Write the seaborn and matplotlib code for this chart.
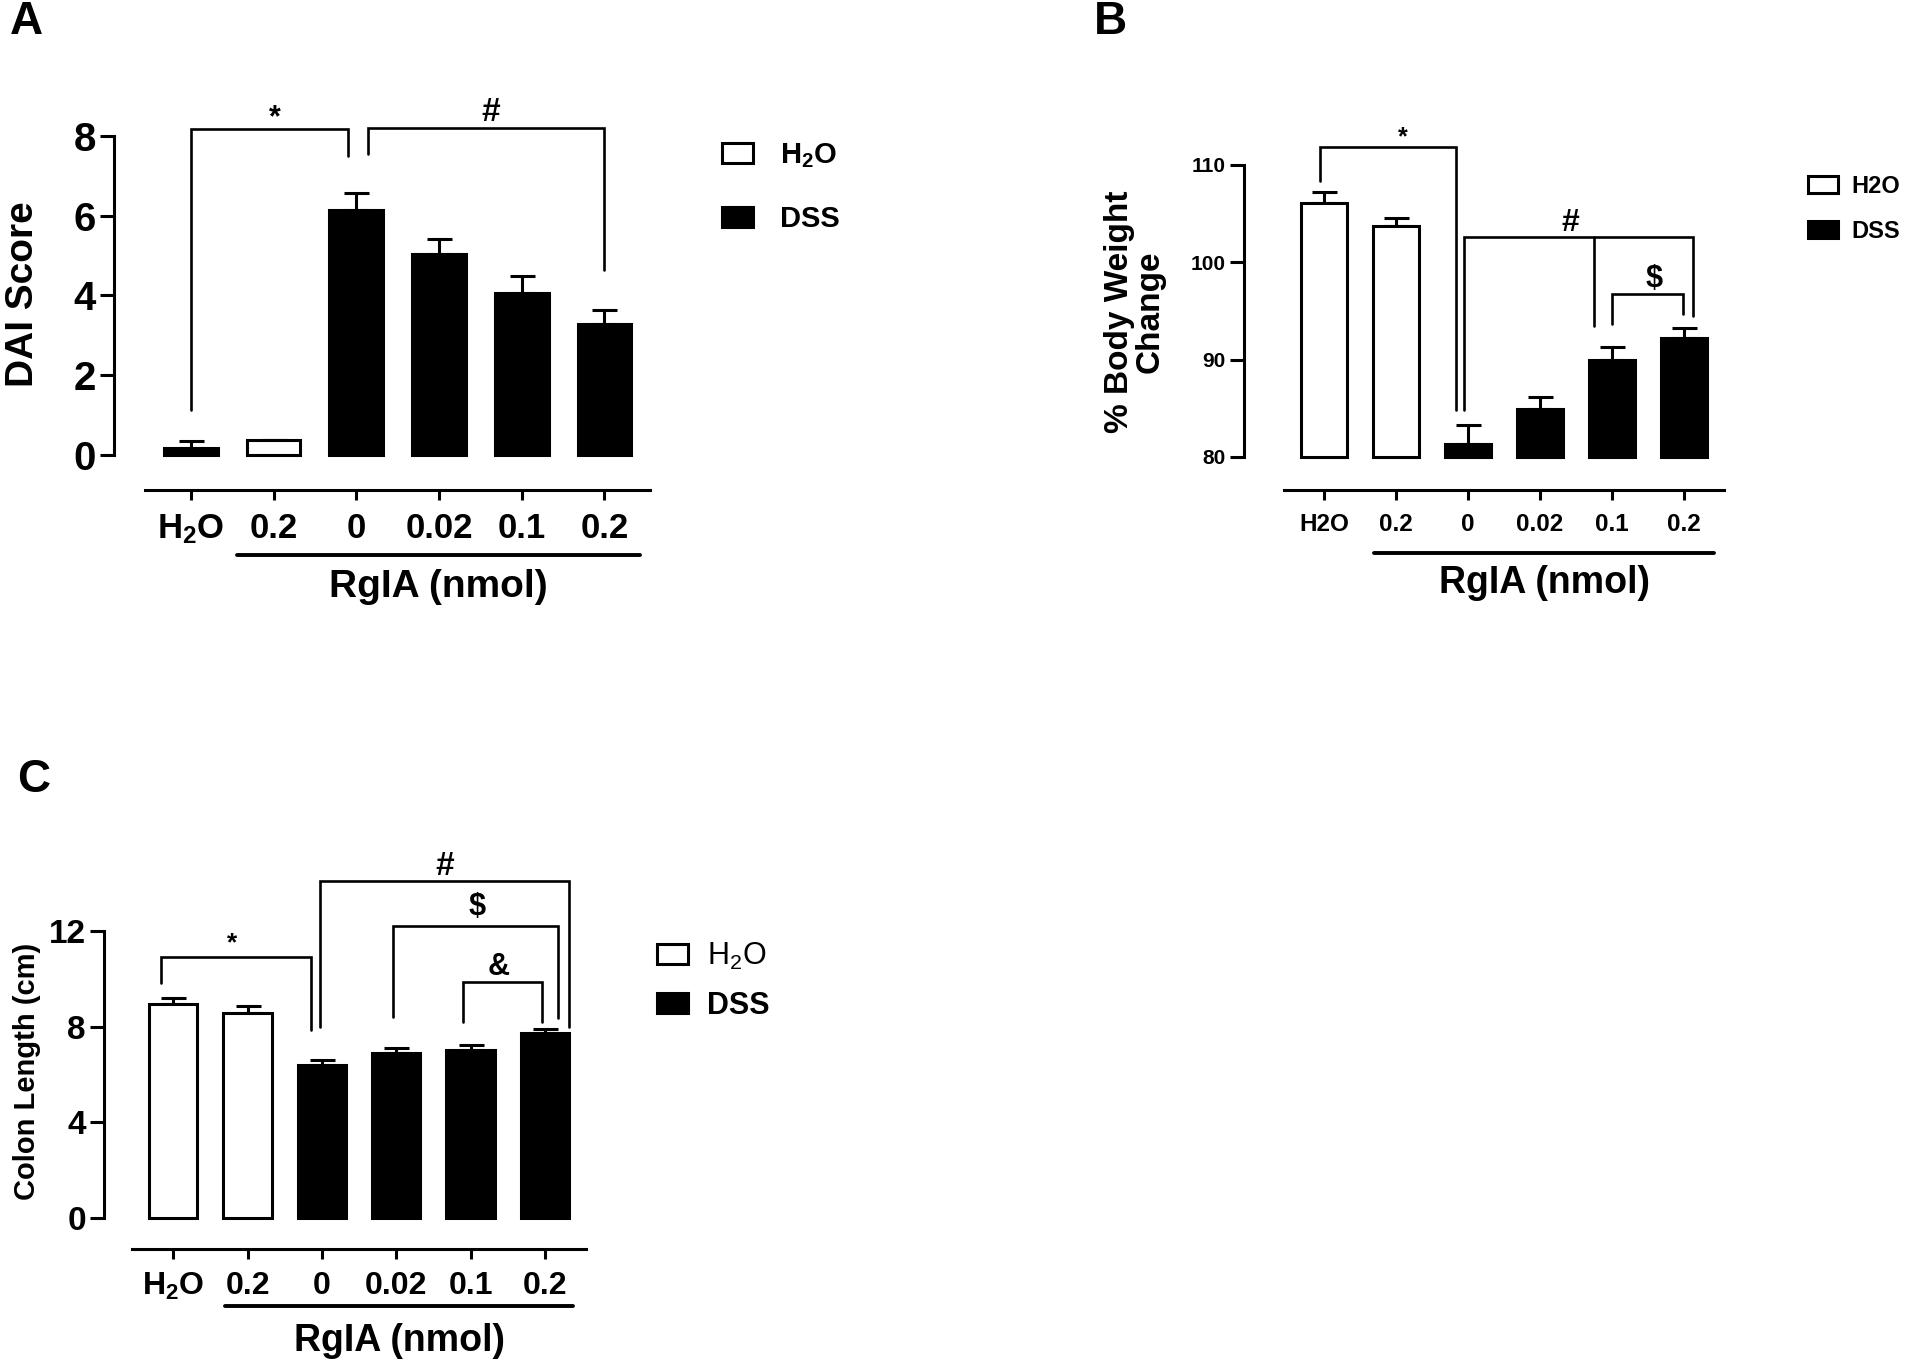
import numpy as np
import pandas as pd
import matplotlib
matplotlib.use('Agg')
import matplotlib.pyplot as plt
from matplotlib.patches import Patch
import seaborn as sns

# data (mean, SEM)
conditions = ['H2O', 'H2O_0.2', 'DSS_0', 'DSS_0.02', 'DSS_0.1', 'DSS_0.2']
groups = ['H2O', 'H2O', 'DSS', 'DSS', 'DSS', 'DSS']
tick_labels = ['H$_2$O', '0.2', '0', '0.02', '0.1', '0.2']
tick_labels_b = ['H2O', '0.2', '0', '0.02', '0.1', '0.2']

dai_mean = [0.18, 0.38, 6.14, 5.04, 4.06, 3.28]
dai_sem = [0.18, 0.0, 0.42, 0.38, 0.42, 0.36]

bw_mean = [106.1, 103.7, 81.35, 84.9, 89.96, 92.2]
bw_sem = [1.1, 0.9, 1.95, 1.3, 1.3, 1.1]

colon_mean = [8.95, 8.59, 6.38, 6.88, 7.03, 7.72]
colon_sem = [0.25, 0.27, 0.23, 0.22, 0.19, 0.20]

# significance brackets: x left, x right, top, left end, right end, symbol, text x, text y, size
brackets_a = [(0.0, 1.9, 8.17, 1.12, 7.5, '*', 1.01, 8.45, 22),
              (2.14, 5.0, 8.21, 7.54, 4.64, '#', 3.62, 8.6, 24)]
brackets_b = [(-0.05, 1.83, 111.9, 108.4, 84.8, '*', 1.1, 112.8, 18),
              (1.95, 5.13, 102.6, 84.8, 94.5, '#', 3.42, 104.0, 23),
              (4.0, 4.99, 96.7, 93.7, 94.7, '$', 4.59, 98.3, 22)]
brackets_c = [(-0.16, 1.86, 10.9, 9.81, 7.84, '*', 0.79, 11.5, 19),
              (1.98, 5.32, 14.1, 8.0, 8.0, '#', 3.65, 14.7, 24),
              (2.95, 5.17, 12.2, 8.4, 8.37, '$', 4.09, 13.0, 22),
              (3.9, 4.96, 9.86, 8.2, 8.2, '&', 4.38, 10.5, 22)]

sns.set_theme(style='ticks')
plt.rcParams['font.family'] = ['Liberation Sans', 'DejaVu Sans']
plt.rcParams['font.weight'] = 'bold'
plt.rcParams['axes.labelweight'] = 'bold'
plt.rcParams['mathtext.default'] = 'regular'
plt.rcParams['axes.edgecolor'] = 'black'
plt.rcParams['xtick.color'] = 'black'
plt.rcParams['ytick.color'] = 'black'
plt.rcParams['text.color'] = 'black'
plt.rcParams['axes.labelcolor'] = 'black'
narrow = ['Liberation Sans Narrow', 'Liberation Sans', 'DejaVu Sans']

LW = 2.2
pal = {'H2O': 'white', 'DSS': 'black'}

fig = plt.figure(figsize=(19.2, 13.6), dpi=100)


def draw_bars(ax, means, sems, base=0):
    df = pd.DataFrame({'cond': conditions, 'group': groups, 'value': means})
    sns.barplot(data=df, x='cond', y='value', hue='group', palette=pal,
                order=conditions, hue_order=['H2O', 'DSS'], dodge=False,
                width=0.65, edgecolor='black', linewidth=LW, legend=False, ax=ax)
    for p in ax.patches:
        if base:
            p.set_height(p.get_height() - base)
            p.set_y(base)
        p.set_clip_on(False)
    x = np.arange(len(means))
    ax.errorbar(x, means, yerr=[np.zeros(len(sems)), sems], fmt='none',
                ecolor='black', elinewidth=LW, capsize=9, capthick=LW, zorder=0.5)


def style_axes(ax, xlim, ylim, yticks, offset, labels, xsize, ysize, yfam=None, xfam=None):
    sns.despine(ax=ax)
    ax.set_xlim(xlim)
    ax.set_ylim(ylim)
    ax.spines['left'].set_linewidth(LW)
    ax.spines['bottom'].set_linewidth(LW)
    ax.spines['bottom'].set_position(('outward', offset))
    ax.spines['bottom'].set_bounds(-0.55, 5.55)
    ax.spines['left'].set_bounds(*ylim)
    ax.set_xticks(range(6))
    ax.set_xticklabels(labels)
    ax.set_yticks(yticks)
    ax.tick_params(axis='y', length=10, width=LW, pad=3, labelsize=ysize)
    ax.tick_params(axis='x', length=7, width=LW, pad=9, labelsize=xsize)
    ax.set_xlabel('')
    if yfam:
        for t in ax.get_yticklabels():
            t.set_family(yfam)
    if xfam:
        for t in ax.get_xticklabels():
            t.set_family(xfam)


def draw_brackets(ax, specs, lw=1.9):
    for x1, x2, top, e1, e2, sym, tx, ty, size in specs:
        ax.plot([x1, x1, x2, x2], [e1, top, top, e2], color='black', lw=lw,
                clip_on=False, solid_joinstyle='miter')
        ax.text(tx, ty, sym, ha='center', va='center', fontsize=size, clip_on=False)


def group_line(ax, x1, x2, y, ty, size):
    ax.plot([x1, x2], [y, y], color='black', lw=LW + 0.6, clip_on=False)
    ax.text((x1 + x2) / 2, ty, 'RgIA (nmol)', ha='center', va='center', fontsize=size)


# ---------- A ----------
axA = fig.add_axes([114 / 1920, 1 - 455 / 1360, 540 / 1920, 319 / 1360])
draw_bars(axA, dai_mean, dai_sem)
for p in axA.patches:
    if abs(p.get_x() + p.get_width() / 2) < 0.1:
        p.set_facecolor('black')
style_axes(axA, (-0.93, 5.6), (0, 8), [0, 2, 4, 6, 8], 25, tick_labels, 25, 29)
axA.set_ylabel('DAI Score', fontsize=28, va='center')
axA.yaxis.set_label_coords(-0.169, 0.505)
draw_brackets(axA, brackets_a)
group_line(axA, 0.56, 5.43, -2.51, -3.3, 28)

# ---------- B ----------
axB = fig.add_axes([1244 / 1920, 1 - 457 / 1360, 494 / 1920, 292 / 1360])
draw_bars(axB, bw_mean, bw_sem, base=80)
style_axes(axB, (-1.11, 5.75), (80, 110), [80, 90, 100, 110], 24, tick_labels_b,
           17.5, 15, yfam=narrow, xfam=narrow)
axB.set_ylabel('% Body Weight\nChange', fontsize=24, va='center', linespacing=1.0)
axB.yaxis.set_label_coords(-0.221, 0.497)
draw_brackets(axB, brackets_b)
axB.plot([3.75, 3.75], [102.6, 93.5], color='black', lw=1.9, clip_on=False)
group_line(axB, 0.70, 5.42, 70.1, 67.1, 27)

# ---------- C ----------
axC = fig.add_axes([104 / 1920, 1 - 1218 / 1360, 493 / 1920, 287 / 1360])
draw_bars(axC, colon_mean, colon_sem)
style_axes(axC, (-0.93, 5.7), (0, 12), [0, 4, 8, 12], 22, tick_labels, 23, 24, yfam=narrow)
axC.set_ylabel('Colon Length (cm)', fontsize=21, va='center')
axC.yaxis.set_label_coords(-0.156, 0.512)
draw_brackets(axC, brackets_c)
group_line(axC, 0.70, 5.38, -3.66, -5.15, 27)

# ---------- legends ----------
handles = [Patch(facecolor='white', edgecolor='black', lw=LW),
           Patch(facecolor='black', edgecolor='black', lw=LW)]
fig.legend(handles, ['H$_2$O', 'DSS'], loc='upper left', bbox_to_anchor=(0.376, 0.8963),
           frameon=False, fontsize=21, handlelength=1.05, handleheight=0.67,
           handletextpad=0.95, labelspacing=1.2, borderpad=0, borderaxespad=0)
fig.legend(handles, ['H2O', 'DSS'], loc='upper left', bbox_to_anchor=(0.9417, 0.8713),
           frameon=False, prop=dict(family=narrow, size=17, weight='bold'),
           handlelength=1.27, handleheight=0.72, handletextpad=0.55, labelspacing=0.93,
           borderpad=0, borderaxespad=0)
legC = fig.legend(handles, ['H$_2$O', 'DSS'], loc='upper left', bbox_to_anchor=(0.3422, 0.3081),
                  frameon=False, fontsize=22, handlelength=1.0, handleheight=0.65,
                  handletextpad=0.65, labelspacing=0.62, borderpad=0, borderaxespad=0)
legC.get_texts()[0].set_fontweight('normal')

# panel letters
for letter, (px, py) in zip('ABC', [(26, 22), (1110, 22), (34, 780)]):
    fig.text(px / 1920, 1 - py / 1360, letter, fontsize=33, ha='center', va='center')

fig.savefig('out.png', dpi=100, facecolor='white')
